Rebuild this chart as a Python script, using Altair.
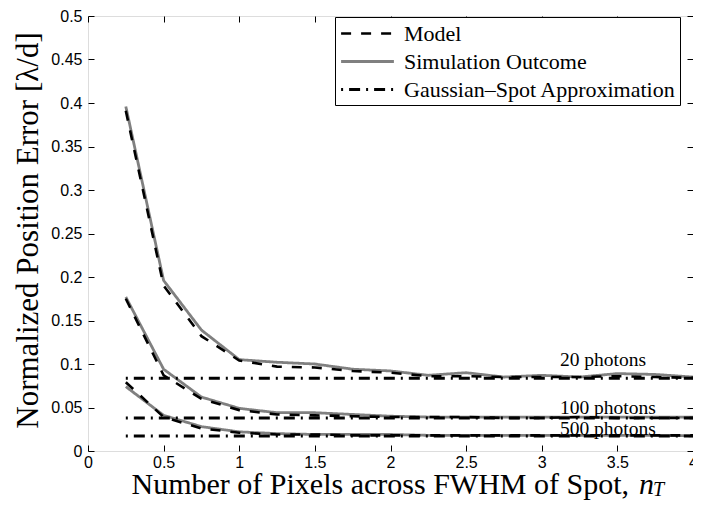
import altair as alt
import pandas as pd

# ---- data ----
x_vals = [0.25, 0.5, 0.75, 1.0, 1.25, 1.5, 1.75, 2.0, 2.25, 2.5, 2.75, 3.0, 3.25, 3.5, 3.75, 4.0]

sim20 = [0.396, 0.196, 0.139, 0.105, 0.102, 0.100, 0.094, 0.092, 0.087, 0.090, 0.085, 0.087, 0.085, 0.089, 0.088, 0.085]
model20 = [0.391, 0.190, 0.132, 0.104, 0.097, 0.096, 0.092, 0.090, 0.086, 0.086, 0.085, 0.085, 0.085, 0.086, 0.085, 0.084]
sim100 = [0.177, 0.094, 0.062, 0.049, 0.044, 0.044, 0.042, 0.040, 0.039, 0.039, 0.039, 0.039, 0.039, 0.039, 0.039, 0.039]
model100 = [0.175, 0.087, 0.060, 0.047, 0.042, 0.041, 0.040, 0.039, 0.039, 0.039, 0.038, 0.038, 0.039, 0.038, 0.038, 0.038]
sim500 = [0.074, 0.041, 0.028, 0.022, 0.020, 0.019, 0.019, 0.019, 0.018, 0.018, 0.018, 0.018, 0.018, 0.018, 0.018, 0.0175]
model500 = [0.079, 0.039, 0.026, 0.021, 0.019, 0.019, 0.018, 0.018, 0.018, 0.018, 0.018, 0.018, 0.018, 0.018, 0.018, 0.018]

gauss_x = [0.25, 4.0]
gauss_levels = {"20": 0.0835, "100": 0.038, "500": 0.0172}

photon_groups = ["20", "100", "500"]
series_names = ["Model", "Simulation Outcome", "Gaussian\u2013Spot Approximation"]

label_text = ["20 photons", "100 photons", "500 photons"]
label_x = [3.12, 3.12, 3.12]
label_y = [0.0975, 0.043, 0.018]

x_ticks = [0, 0.5, 1, 1.5, 2, 2.5, 3, 3.5, 4]
y_ticks = [0, 0.05, 0.1, 0.15, 0.2, 0.25, 0.3, 0.35, 0.4, 0.45, 0.5]

# ---- tables ----
rows = []
for ph, s, m in zip(photon_groups, [sim20, sim100, sim500], [model20, model100, model500]):
    for xv, yv in zip(x_vals, s):
        rows.append({"x": xv, "y": yv, "series": series_names[1], "photons": ph})
    for xv, yv in zip(x_vals, m):
        rows.append({"x": xv, "y": yv, "series": series_names[0], "photons": ph})
    for xv in gauss_x:
        rows.append({"x": xv, "y": gauss_levels[ph], "series": series_names[2], "photons": ph})
df = pd.DataFrame(rows)
labels_df = pd.DataFrame({"x": label_x, "y": label_y, "text": label_text})

W, H = 605, 435
xscale = alt.Scale(domain=[0, 4], nice=False, zero=False)
yscale = alt.Scale(domain=[0, 0.5], nice=False, zero=False)

legend = alt.Legend(
    title=None, orient="none", legendX=247, legendY=1,
    symbolType="M-2.4,0H2.4", symbolSize=484, symbolOffset=16,
    labelFont="Liberation Serif", labelFontSize=22, labelColor="black",
    labelOffset=24, labelLimit=400,
    fillColor="white", strokeColor="black", padding=4, rowPadding=4,
    cornerRadius=0,
)
color = alt.Color("series:N", scale=alt.Scale(domain=series_names, range=["black", "#808080", "black"]), legend=legend)
dash = alt.StrokeDash("series:N", scale=alt.Scale(domain=series_names, range=[[10, 10], [1, 0], [2, 6, 11, 6]]), legend=legend)
swidth = alt.StrokeWidth("series:N", scale=alt.Scale(domain=series_names, range=[2.6, 3.0, 2.6]), legend=legend)

tick_axis = dict(labels=False, ticks=True, tickSize=6, offset=-6, domain=False, grid=False,
                 title=None, tickColor="black", tickWidth=1)

base = alt.Chart(df)

sim_layer = base.transform_filter(alt.datum.series == series_names[1]).mark_line().encode(
    x=alt.X("x:Q", scale=xscale, axis=alt.Axis(
        orient="bottom", values=x_ticks, format=".1~f", ticks=False, domain=False, grid=False,
        title=None, labelFont="Liberation Sans", labelFontSize=16, labelColor="black",
        labelPadding=3, labelFlush=False, labelOverlap=False)),
    y=alt.Y("y:Q", scale=yscale, axis=alt.Axis(
        orient="left", values=y_ticks, format=".2~f", ticks=False, domain=False, grid=False,
        labelFont="Liberation Sans", labelFontSize=16, labelColor="black", labelPadding=6,
        labelFlush=False, labelOverlap=False,
        title="Normalized Position Error [\u03bb/d]", titleFont="Liberation Serif",
        titleFontSize=31, titleFontWeight="normal", titleColor="black",
        titleX=-51, titleY=214, titleAngle=270, titleAlign="center", titleBaseline="alphabetic")),
    color=color, strokeDash=dash, strokeWidth=swidth, detail="photons:N",
)

model_layer = base.transform_filter(alt.datum.series == series_names[0]).mark_line().encode(
    x=alt.X("x:Q", scale=xscale, axis=alt.Axis(orient="top", values=x_ticks, **tick_axis)),
    y=alt.Y("y:Q", scale=yscale, axis=alt.Axis(orient="right", values=y_ticks, **tick_axis)),
    color=color, strokeDash=dash, strokeWidth=swidth, detail="photons:N",
)

gauss_layer = base.transform_filter(alt.datum.series == series_names[2]).mark_line().encode(
    x=alt.X("x:Q", scale=xscale, axis=alt.Axis(orient="bottom", values=x_ticks, **tick_axis)),
    y=alt.Y("y:Q", scale=yscale, axis=alt.Axis(orient="left", values=y_ticks, **tick_axis)),
    color=color, strokeDash=dash, strokeWidth=swidth, detail="photons:N",
)

text_layer = alt.Chart(labels_df).mark_text(
    font="Liberation Serif", fontSize=19.5, align="left", baseline="alphabetic", color="black"
).encode(
    x=alt.X("x:Q", scale=xscale, axis=None),
    y=alt.Y("y:Q", scale=yscale, axis=None),
    text="text:N",
)

title_df = pd.DataFrame({"k": [0]})
xt_main = alt.Chart(title_df).mark_text(
    text="Number of Pixels across FWHM of Spot,", font="Liberation Serif", fontSize=30,
    align="right", baseline="alphabetic", color="black"
).encode(x=alt.value(541), y=alt.value(H + 43))
xt_n = alt.Chart(title_df).mark_text(
    text="n", font="Liberation Serif", fontSize=30, fontStyle="italic",
    align="left", baseline="alphabetic", color="black"
).encode(x=alt.value(551), y=alt.value(H + 43))
xt_T = alt.Chart(title_df).mark_text(
    text="T", font="Liberation Serif", fontSize=20, fontStyle="italic",
    align="left", baseline="alphabetic", color="black"
).encode(x=alt.value(565), y=alt.value(H + 45))

chart = alt.layer(
    sim_layer, model_layer, gauss_layer, text_layer, xt_main, xt_n, xt_T
).resolve_axis(x="independent", y="independent").properties(
    width=W, height=H,
    autosize=alt.AutoSizeParams(type="none"),
    padding={"left": 80, "top": 8, "right": 0, "bottom": 49},
).configure_view(
    stroke="black", strokeWidth=1.6
).configure(background="white")

chart.save("out.html", embed_options={"renderer": "svg", "actions": False})
